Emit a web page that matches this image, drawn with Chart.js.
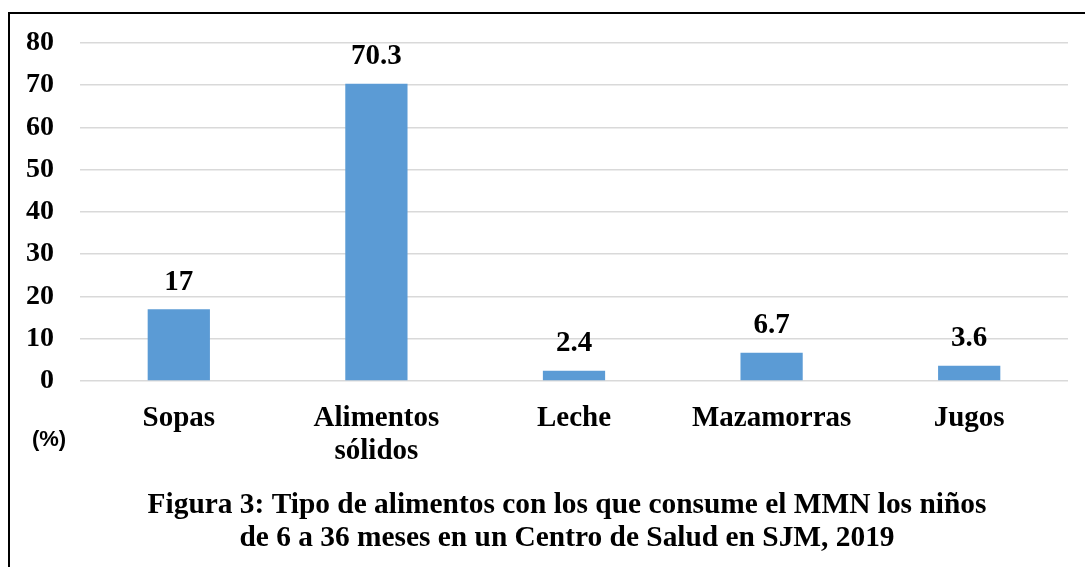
<!DOCTYPE html>
<html>
<head>
<meta charset="utf-8">
<script src="https://cdn.jsdelivr.net/npm/chart.js@4"></script>
<style>
    html, body { margin: 0; padding: 0; background: #fff; overflow: hidden; }
    #frame {
        position: absolute; left: 8px; top: 12px; width: 1100px; height: 600px;
        border: 2px solid #000; box-sizing: border-box;
    }
    #chart { position: absolute; left: 0; top: 0; }
</style>
</head>
<body>
<div id="frame"></div>
<canvas id="chart" width="1085" height="567"></canvas>
<script>
// Datos del gráfico
const categorias = ['Sopas', ['Alimentos', 'sólidos'], 'Leche', 'Mazamorras', 'Jugos'];
const porcentajes = [17, 70.3, 2.4, 6.7, 3.6];
const etiquetasValor = ['17', '70.3', '2.4', '6.7', '3.6'];
const tituloLineas = [
    'Figura 3: Tipo de alimentos con los que consume el MMN los niños',
    'de 6 a 36 meses en un Centro de Salud en SJM, 2019'
];

const serif = '"Liberation Serif", "Times New Roman", serif';

// Etiquetas de valor sobre las barras
const valueLabels = {
    id: 'valueLabels',
    afterDatasetsDraw(chart) {
        const ctx = chart.ctx;
        const meta = chart.getDatasetMeta(0);
        ctx.save();
        ctx.font = 'bold 29px ' + serif;
        ctx.fillStyle = '#000';
        ctx.textAlign = 'center';
        ctx.textBaseline = 'middle';
        meta.data.forEach((bar, i) => {
            ctx.fillText(etiquetasValor[i], bar.x, bar.y - 27);
        });
        ctx.restore();
    }
};

// Texto (%) y título inferior
const extraText = {
    id: 'extraText',
    afterDraw(chart) {
        const ctx = chart.ctx;
        ctx.save();
        ctx.fillStyle = '#000';
        ctx.textAlign = 'center';
        ctx.textBaseline = 'middle';
        ctx.font = 'bold 22px "Liberation Sans", Arial, sans-serif';
        ctx.fillText('(%)', 49, 440);
        ctx.font = 'bold 29.4px ' + serif;
        tituloLineas.forEach((line, i) => {
            ctx.fillText(line, 567, 505 + i * 33);
        });
        ctx.restore();
    }
};

new Chart(document.getElementById('chart').getContext('2d'), {
    type: 'bar',
    data: {
        labels: categorias,
        datasets: [{
            data: porcentajes,
            backgroundColor: '#5B9BD5',
            barPercentage: 0.315,
            categoryPercentage: 1
        }]
    },
    options: {
        responsive: false,
        animation: false,
        layout: { padding: { left: 0, right: 17, top: 42, bottom: 0 } },
        plugins: {
            legend: { display: false },
            tooltip: { enabled: false }
        },
        scales: {
            x: {
                grid: { display: false, drawTicks: false },
                border: { display: false },
                ticks: {
                    color: '#000',
                    padding: 21,
                    font: { family: serif, size: 29, weight: 'bold', lineHeight: 1.14 }
                },
                afterFit: (axis) => { axis.height = 186; }
            },
            y: {
                min: 0,
                max: 80,
                grid: { color: '#D9D9D9', lineWidth: 1.5, drawTicks: false },
                border: { display: false },
                ticks: {
                    stepSize: 10,
                    color: '#000',
                    padding: 26,
                    font: { family: serif, size: 28, weight: 'bold' }
                },
                afterFit: (axis) => { axis.width = 80; }
            }
        }
    },
    plugins: [valueLabels, extraText]
});
</script>
</body>
</html>
